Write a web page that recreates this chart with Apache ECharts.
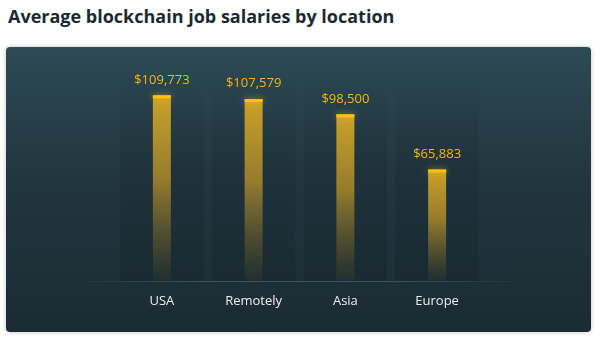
<!DOCTYPE html>
<html>
<head>
<meta charset="utf-8">
<script src="https://cdn.jsdelivr.net/npm/echarts@6/dist/echarts.min.js"></script>
<style>
  html, body { margin: 0; padding: 0; background: #fff; width: 600px; height: 344px; overflow: hidden; }
  h1 {
    position: absolute; left: 8px; top: 4px; margin: 0;
    font-family: "Open Sans", sans-serif; font-weight: 700; font-size: 18px;
    color: #1b2a33; letter-spacing: 0;
  }
  #panel {
    position: absolute; left: 6px; top: 47px; width: 585px; height: 285px;
    border-radius: 4px;
    background: linear-gradient(to bottom, #2d4a56 0%, #22363f 45%, #1b2b33 100%);
    box-shadow: 0 0 4px rgba(0,0,0,0.25);
  }
  #chart { position: absolute; left: 0; top: 0; width: 585px; height: 285px; }
</style>
</head>
<body>
<h1>Average blockchain job salaries by location</h1>
<div id="panel"><div id="chart"></div></div>
<script>
// Average salary per location (USD)
const locations = ['USA', 'Remotely', 'Asia', 'Europe'];
const salaries = [109773, 107579, 98500, 65883];
const axisMax = 120000;

const chart = echarts.init(document.getElementById('chart'), null, { renderer: 'canvas' });

const fmt = v => '$' + v.toLocaleString('en-US');

chart.setOption({
  backgroundColor: 'transparent',
  textStyle: { fontFamily: '"Open Sans", sans-serif' },
  grid: { left: 110, right: 108, top: 31, bottom: 51 },
  xAxis: [
    {
      type: 'category', data: locations,
      axisLine: { show: false }, axisTick: { show: false },
      axisLabel: { color: '#e8eef0', fontSize: 13, margin: 14 }
    },
    { type: 'category', data: locations, show: false }
  ],
  yAxis: { type: 'value', min: 0, max: axisMax, show: false, splitLine: { show: false } },
  series: [
    {
      // darker column behind each category
      type: 'bar', xAxisIndex: 1, barWidth: '91%', silent: true,
      data: locations.map(() => axisMax),
      itemStyle: {
        color: new echarts.graphic.LinearGradient(0, 0, 0, 1, [
          { offset: 0, color: 'rgba(10,20,26,0)' },
          { offset: 0.35, color: 'rgba(10,20,26,0.10)' },
          { offset: 1, color: 'rgba(10,20,26,0.16)' }
        ])
      },
      z: 1
    },
    {
      type: 'bar', barWidth: 18, barGap: '-100%',
      data: salaries,
      itemStyle: {
        color: new echarts.graphic.LinearGradient(0, 0, 0, 1, [
          { offset: 0, color: 'rgba(214,167,40,0.95)' },
          { offset: 0.45, color: 'rgba(190,150,40,0.75)' },
          { offset: 1, color: 'rgba(150,120,40,0.05)' }
        ])
      },
      label: {
        show: true, position: 'top', distance: 9,
        color: '#f6b60a', fontSize: 13,
        formatter: p => fmt(p.value)
      },
      z: 3
    },
    {
      // bright cap on top of each bar
      type: 'pictorialBar', barWidth: 18, barGap: '-100%',
      symbol: 'rect', symbolSize: [18, 3], symbolPosition: 'end',
      symbolOffset: [0, 0],
      data: salaries,
      itemStyle: { color: '#ffc107', shadowColor: 'rgba(255,196,0,0.6)', shadowBlur: 6 },
      z: 4
    }
  ]
});

// Faint baseline that fades out at both ends
const y0 = chart.convertToPixel({ yAxisIndex: 0 }, 0);
chart.setOption({
  graphic: [{
    type: 'rect',
    shape: { x: 52, y: Math.round(y0), width: 480, height: 1 },
    style: {
      fill: new echarts.graphic.LinearGradient(0, 0, 1, 0, [
        { offset: 0, color: 'rgba(120,150,160,0)' },
        { offset: 0.3, color: 'rgba(120,150,160,0.35)' },
        { offset: 0.7, color: 'rgba(120,150,160,0.35)' },
        { offset: 1, color: 'rgba(120,150,160,0)' }
      ])
    },
    silent: true, z: 5
  }]
});
</script>
</body>
</html>
